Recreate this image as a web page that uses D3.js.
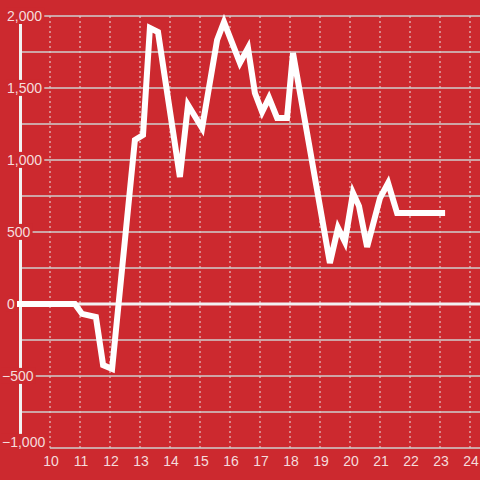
<!DOCTYPE html>
<html>
<head>
<meta charset="utf-8">
<script src="https://cdn.jsdelivr.net/npm/d3@7"></script>
<style>
  body { margin: 0; background: #cc292f; }
  svg { display: block; font-family: "Liberation Sans", Arial, sans-serif; }
</style>
</head>
<body>
<svg id="chart" width="480" height="480"></svg>
<script>
let width = 480,
    height = 480;

// hours of the day
let hours = [8.9, 10.83, 11.07, 11.53, 11.77, 12.07, 12.83, 13.1, 13.33, 13.6, 14.33, 14.6, 15.07,
    15.57, 15.8, 16.33, 16.6, 16.83, 17.07, 17.3, 17.57, 17.9, 18.1, 19.33, 19.6, 19.83, 20.1,
    20.3, 20.57, 21.0, 21.27, 21.57, 23.17]
let values = [0, 0, -69, -90, -424, -451, 1139, 1174, 1917, 1889, 882, 1382, 1222,
    1833, 1958, 1674, 1778, 1465, 1333, 1431, 1292, 1292, 1743, 285, 528, 431, 771,
    680, 396, 736, 840, 632, 632]

let xTicks = [10, 11, 12, 13, 14, 15, 16, 17, 18, 19, 20, 21, 22, 23, 24]
let yGrid = [2000, 1750, 1500, 1250, 1000, 750, 500, 250, -250, -500, -750]
let yLabels = [2000, 1500, 1000, 500, 0, -500, -1000]

let data = hours.map((h, i) => ({ x: h, y: values[i] }))

let svg = d3.select("#chart")

let xScale = d3.scaleLinear()
    .domain([10, 24])
    .range([50, 470])
let yScale = d3.scaleLinear()
    .domain([-1000, 2000])
    .range([448, 16])

// vertical dashed grid
svg.append("g")
    .selectAll("line")
    .data(xTicks)
    .enter()
    .append("line")
    .attr("x1", d => xScale(d))
    .attr("x2", d => xScale(d))
    .attr("y1", yScale(2000))
    .attr("y2", yScale(-1000))
    .attr("stroke", "#e6e6e6")
    .attr("stroke-width", 1)
    .attr("stroke-dasharray", "2,3")

// horizontal grid
svg.append("g")
    .selectAll("line")
    .data(yGrid)
    .enter()
    .append("line")
    .attr("x1", 20)
    .attr("x2", width)
    .attr("y1", d => yScale(d))
    .attr("y2", d => yScale(d))
    .attr("stroke", "#cfcfcf")
    .attr("stroke-width", 1.5)

// bottom axis line
svg.append("line")
    .attr("x1", xScale(10))
    .attr("x2", width)
    .attr("y1", yScale(-1000))
    .attr("y2", yScale(-1000))
    .attr("stroke", "#cfcfcf")
    .attr("stroke-width", 1.5)

// left axis line
svg.append("line")
    .attr("x1", 20.5)
    .attr("x2", 20.5)
    .attr("y1", 24)
    .attr("y2", yScale(-1000))
    .attr("stroke", "#f2f2f2")
    .attr("stroke-width", 3)

// zero line
svg.append("line")
    .attr("x1", 20)
    .attr("x2", width)
    .attr("y1", yScale(0))
    .attr("y2", yScale(0))
    .attr("stroke", "#f2f2f2")
    .attr("stroke-width", 3)

// y labels with background so lines break around them
let fmt = d3.format(",")
let yl = svg.append("g")
    .selectAll("g")
    .data(yLabels)
    .enter()
    .append("g")
yl.append("text")
    .attr("x", d => d < 0 ? 2 : 7)
    .attr("y", d => yScale(d) - (d == -1000 ? 6 : 0))
    .attr("dy", "0.35em")
    .attr("font-size", "14px")
    .attr("fill", "#f5dcdc")
    .text(d => fmt(d))
    .each(function() {
        let b = this.getBBox()
        d3.select(this.parentNode).insert("rect", "text")
            .attr("x", b.x - 1)
            .attr("y", b.y)
            .attr("width", b.width + 3)
            .attr("height", b.height)
            .attr("fill", "#cc292f")
    })

// x labels
svg.append("g")
    .selectAll("text")
    .data(xTicks)
    .enter()
    .append("text")
    .attr("x", d => xScale(d) + 1)
    .attr("y", 466)
    .attr("text-anchor", "middle")
    .attr("font-size", "14px")
    .attr("fill", "#f5dcdc")
    .text(d => d)

// the series
let valueline = d3.line()
    .x(d => xScale(d.x))
    .y(d => yScale(d.y))

svg.append("path")
    .datum(data)
    .attr("d", valueline)
    .attr("fill", "none")
    .attr("stroke", "#ffffff")
    .attr("stroke-width", 6)
    .attr("stroke-linejoin", "miter")
</script>
</body>
</html>
